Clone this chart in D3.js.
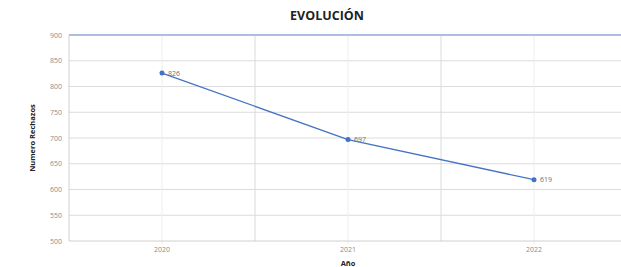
<!DOCTYPE html>
<html>
<head>
<meta charset="utf-8">
<script src="https://cdn.jsdelivr.net/npm/d3@7"></script>
<style>
  body { margin: 0; background: #fff; }
  svg { display: block; font-family: "Open Sans", "Liberation Sans", sans-serif; }
</style>
</head>
<body>
<svg id="chart" width="621" height="267"></svg>
<script>
const years = ["2020", "2021", "2022"]
const rechazos = [826, 697, 619]
const yTicks = [500, 550, 600, 650, 700, 750, 800, 850, 900]

const dims = { width: 621, height: 267, left: 69, top: 35, bottom: 241, step: 186 }

const svg = d3.select("#chart")

const x = d3.scaleBand().domain(years).range([dims.left, dims.left + dims.step * years.length])
const y = d3.scaleLinear().domain([500, 900]).range([dims.bottom, dims.top])

// horizontal grid
svg.append("g").selectAll("line").data(yTicks.filter(d => d !== 900 && d !== 500)).join("line")
  .attr("x1", dims.left).attr("x2", dims.width)
  .attr("y1", d => y(d)).attr("y2", d => y(d))
  .attr("stroke", "#dcdcdc").attr("stroke-width", 1)

// vertical grid: band centres (light) and band edges (darker)
svg.append("g").selectAll("line").data(years).join("line")
  .attr("x1", d => x(d) + x.bandwidth() / 2).attr("x2", d => x(d) + x.bandwidth() / 2)
  .attr("y1", dims.top).attr("y2", dims.bottom + 4)
  .attr("stroke", "#eeeeee")
svg.append("g").selectAll("line").data(years.slice(1)).join("line")
  .attr("x1", d => x(d)).attr("x2", d => x(d))
  .attr("y1", dims.top).attr("y2", dims.bottom)
  .attr("stroke", "#dadada")

// axes lines
svg.append("line").attr("x1", dims.left).attr("x2", dims.left)
  .attr("y1", dims.top).attr("y2", dims.bottom).attr("stroke", "#d0d0d0")
svg.append("line").attr("x1", dims.left).attr("x2", dims.width)
  .attr("y1", y(500)).attr("y2", y(500)).attr("stroke", "#d0d0d0")
svg.append("line").attr("x1", dims.left).attr("x2", dims.width)
  .attr("y1", y(900)).attr("y2", y(900)).attr("stroke", "#a9bfe6").attr("stroke-width", 2)

// y tick labels
svg.append("g").selectAll("text").data(yTicks).join("text")
  .attr("x", dims.left - 7).attr("y", d => y(d) + 2.5)
  .attr("text-anchor", "end").attr("font-size", 7).attr("fill", "#8c8c8c")
  .text(d => d)

// x tick labels
svg.append("g").selectAll("text").data(years).join("text")
  .attr("x", d => x(d) + x.bandwidth() / 2).attr("y", 252)
  .attr("text-anchor", "middle").attr("font-size", 7).attr("fill", "#8c8c8c")
  .text(d => d)

// titles
svg.append("text").attr("x", 327).attr("y", 20).attr("text-anchor", "middle")
  .attr("font-size", 12.5).attr("font-weight", "bold").attr("fill", "#222").text("EVOLUCIÓN")
svg.append("text").attr("x", 348).attr("y", 266).attr("text-anchor", "middle")
  .attr("font-size", 7.5).attr("font-weight", "bold").attr("fill", "#222").text("Año")
svg.append("text").attr("transform", `translate(35,${(dims.top + dims.bottom) / 2}) rotate(-90)`)
  .attr("text-anchor", "middle").attr("font-size", 7.5).attr("font-weight", "bold").attr("fill", "#222")
  .text("Numero Rechazos")

// line + points
const pts = years.map((d, i) => ({ year: d, value: rechazos[i] }))
const line = d3.line().x(d => x(d.year) + x.bandwidth() / 2).y(d => y(d.value))
svg.append("path").datum(pts).attr("d", line)
  .attr("fill", "none").attr("stroke", "#4472c4").attr("stroke-width", 1.3)
svg.append("g").selectAll("circle").data(pts).join("circle")
  .attr("cx", d => x(d.year) + x.bandwidth() / 2).attr("cy", d => y(d.value))
  .attr("r", 2.5).attr("fill", "#4472c4")
svg.append("g").selectAll("text").data(pts).join("text")
  .attr("x", d => x(d.year) + x.bandwidth() / 2 + 6).attr("y", d => y(d.value) + 2.5)
  .attr("font-size", 7).attr("fill", "#707070")
  .text(d => d.value)
</script>
</body>
</html>
